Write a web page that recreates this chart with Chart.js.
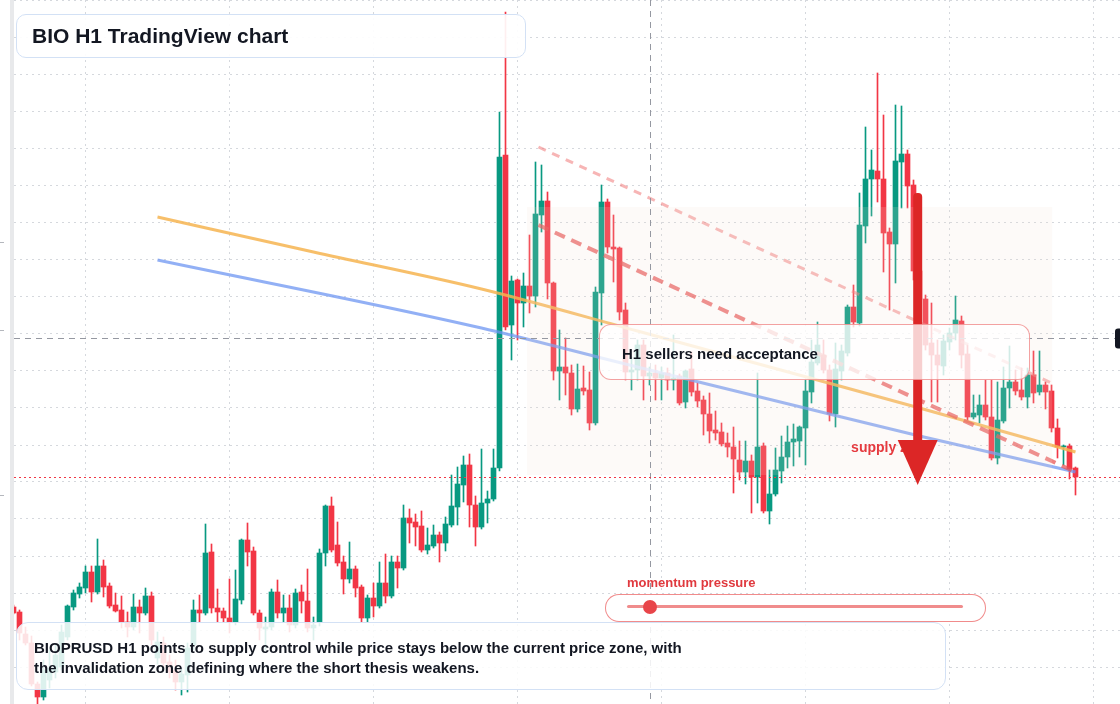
<!DOCTYPE html>
<html>
<head>
<meta charset="utf-8">
<title>BIO H1 TradingView chart</title>
<script src="https://cdn.jsdelivr.net/npm/chart.js@4.4.1/dist/chart.umd.min.js"></script>
<style>
  body { margin: 0; background: #fff; font-family: "Liberation Sans", Arial, sans-serif; }
  #stage { position: relative; width: 1120px; height: 704px; overflow: hidden; background: #fff; }
  #chart { position: absolute; left: 0; top: 0; }
  .card { position: absolute; box-sizing: border-box; color: #131722; font-weight: bold; white-space: nowrap; }
  #title { left: 16px; top: 14px; width: 510px; height: 44px; border: 1px solid #d3e1f5; border-radius: 10px;
           background: rgba(255,255,255,0.92); font-size: 21px; line-height: 42px; padding-left: 15px; }
  #note { left: 16px; top: 622px; width: 930px; height: 68px; border: 1.5px solid #d3e1f5; border-radius: 12px;
          background: rgba(255,255,255,0.86); font-size: 15px; line-height: 20px; padding: 15px 0 0 17px; }
  #callout { left: 599px; top: 324px; width: 431px; height: 56px; border: 1.5px solid rgba(236,110,110,0.65);
             border-radius: 12px; background: rgba(255,255,255,0.78); font-size: 15px; line-height: 57px; padding-left: 22px; }
  #momLabel { left: 627px; top: 575px; font-size: 13px; line-height: 15px; color: #e0393e; }
  #mom { left: 605px; top: 594px; width: 381px; height: 28px; border: 1.5px solid rgba(236,100,100,0.75);
         border-radius: 14px; background: #fff; }
  #momTrack { position: absolute; left: 20.5px; top: 10px; width: 336px; height: 3px; border-radius: 2px; background: #f08c8c; }
  #momDot { position: absolute; left: 36.5px; top: 4.5px; width: 14px; height: 14px; border-radius: 50%; background: #e8454a; }
</style>
</head>
<body>
<div id="stage">
  <canvas id="chart" width="1120" height="704"></canvas>
  <div class="card" id="title">BIO H1 TradingView chart</div>
  <div class="card" id="callout">H1 sellers need acceptance</div>
  <div class="card" id="momLabel">momentum pressure</div>
  <div class="card" id="mom"><div id="momTrack"></div><div id="momDot"></div></div>
  <div class="card" id="note">BIOPRUSD H1 points to supply control while price stays below the current price zone, with<br>the invalidation zone defining where the short thesis weakens.</div>
</div>

<script>
// BIOPRUSD hourly candles, oldest first
var opens = [
  0.0298,0.0293,0.0271,0.0262,0.0221,0.0208,0.0225,0.0233,0.0238,0.0268,
  0.0298,0.0311,0.0317,0.0333,0.0313,0.0339,0.0319,0.0300,0.0295,0.0283,
  0.0278,0.0298,0.0292,0.0309,0.0247,0.0262,0.0243,0.0235,0.0223,0.0230,
  0.0260,0.0295,0.0292,0.0353,0.0297,0.0294,0.0287,0.0283,0.0305,0.0365,
  0.0354,0.0292,0.0276,0.0278,0.0313,0.0292,0.0297,0.0280,0.0313,0.0304,
  0.0277,0.0283,0.0352,0.0399,0.0360,0.0343,0.0326,0.0336,0.0318,0.0287,
  0.0307,0.0299,0.0322,0.0309,0.0343,0.0337,0.0387,0.0383,0.0379,0.0355,
  0.0359,0.0370,0.0362,0.0380,0.0398,0.0420,0.0440,0.0400,0.0378,0.0402,
  0.0406,0.0437,0.0750,0.0580,0.0625,0.0602,0.0619,0.0609,0.0690,0.0704,
  0.0622,0.0534,0.0538,0.0532,0.0496,0.0517,0.0515,0.0482,0.0612,0.0703,
  0.0658,0.0657,0.0595,0.0533,0.0535,0.0560,0.0529,0.0532,0.0527,0.0532,
  0.0525,0.0529,0.0503,0.0536,0.0514,0.0505,0.0491,0.0475,0.0473,0.0462,
  0.0458,0.0445,0.0433,0.0444,0.0428,0.0459,0.0394,0.0411,0.0434,0.0448,
  0.0463,0.0464,0.0477,0.0513,0.0542,0.0550,0.0535,0.0491,0.0534,0.0552,
  0.0598,0.0582,0.0679,0.0726,0.0734,0.0726,0.0673,0.0661,0.0743,0.0751,
  0.0720,0.0634,0.0606,0.0562,0.0550,0.0539,0.0563,0.0572,0.0584,0.0551,
  0.0488,0.0490,0.0500,0.0488,0.0447,0.0484,0.0517,0.0523,0.0515,0.0508,
  0.0530,0.0513,0.0520,0.0514,0.0477,0.0458,0.0459,0.0437
];
var highs = [
  0.0300,0.0295,0.0278,0.0269,0.0223,0.0245,0.0255,0.0260,0.0280,0.0300,
  0.0315,0.0322,0.0339,0.0339,0.0366,0.0345,0.0322,0.0312,0.0309,0.0293,
  0.0311,0.0305,0.0317,0.0313,0.0273,0.0268,0.0250,0.0245,0.0237,0.0262,
  0.0305,0.0310,0.0381,0.0361,0.0316,0.0297,0.0326,0.0335,0.0366,0.0382,
  0.0358,0.0295,0.0288,0.0316,0.0325,0.0310,0.0310,0.0316,0.0320,0.0336,
  0.0288,0.0356,0.0400,0.0408,0.0383,0.0349,0.0363,0.0339,0.0320,0.0310,
  0.0322,0.0343,0.0351,0.0349,0.0349,0.0400,0.0396,0.0391,0.0394,0.0377,
  0.0380,0.0373,0.0388,0.0430,0.0438,0.0449,0.0451,0.0409,0.0456,0.0414,
  0.0456,0.0793,0.0893,0.0629,0.0626,0.0632,0.0670,0.0743,0.0740,0.0713,
  0.0623,0.0575,0.0567,0.0540,0.0541,0.0539,0.0533,0.0618,0.0720,0.0706,
  0.0690,0.0658,0.0602,0.0548,0.0565,0.0565,0.0538,0.0540,0.0538,0.0537,
  0.0570,0.0531,0.0535,0.0553,0.0522,0.0509,0.0512,0.0494,0.0482,0.0472,
  0.0478,0.0464,0.0464,0.0450,0.0532,0.0462,0.0435,0.0457,0.0469,0.0479,
  0.0481,0.0479,0.0525,0.0565,0.0583,0.0565,0.0540,0.0562,0.0560,0.0600,
  0.0620,0.0712,0.0778,0.0755,0.0832,0.0790,0.0677,0.0800,0.0799,0.0755,
  0.0725,0.0640,0.0610,0.0602,0.0565,0.0570,0.0577,0.0609,0.0589,0.0560,
  0.0510,0.0510,0.0525,0.0525,0.0523,0.0538,0.0559,0.0535,0.0537,0.0537,
  0.0554,0.0554,0.0523,0.0520,0.0486,0.0460,0.0461,0.0438
];
var lows = [
  0.0291,0.0265,0.0260,0.0219,0.0201,0.0205,0.0217,0.0227,0.0235,0.0265,
  0.0295,0.0307,0.0312,0.0303,0.0311,0.0308,0.0297,0.0293,0.0277,0.0268,
  0.0275,0.0272,0.0290,0.0260,0.0241,0.0237,0.0227,0.0215,0.0210,0.0213,
  0.0255,0.0283,0.0290,0.0292,0.0283,0.0283,0.0272,0.0280,0.0301,0.0339,
  0.0290,0.0265,0.0255,0.0275,0.0287,0.0283,0.0273,0.0277,0.0292,0.0273,
  0.0265,0.0279,0.0339,0.0353,0.0339,0.0311,0.0322,0.0308,0.0283,0.0283,
  0.0288,0.0297,0.0302,0.0307,0.0317,0.0335,0.0362,0.0359,0.0353,0.0351,
  0.0357,0.0343,0.0354,0.0378,0.0380,0.0403,0.0378,0.0359,0.0376,0.0382,
  0.0404,0.0434,0.0575,0.0545,0.0565,0.0578,0.0592,0.0598,0.0673,0.0606,
  0.0525,0.0505,0.0510,0.0490,0.0493,0.0510,0.0475,0.0480,0.0580,0.0652,
  0.0623,0.0585,0.0525,0.0515,0.0525,0.0505,0.0520,0.0505,0.0505,0.0515,
  0.0515,0.0500,0.0497,0.0509,0.0498,0.0470,0.0462,0.0465,0.0459,0.0448,
  0.0412,0.0425,0.0421,0.0392,0.0402,0.0392,0.0381,0.0409,0.0422,0.0437,
  0.0439,0.0448,0.0440,0.0502,0.0540,0.0532,0.0484,0.0478,0.0525,0.0549,
  0.0578,0.0579,0.0662,0.0689,0.0703,0.0633,0.0595,0.0622,0.0697,0.0697,
  0.0625,0.0600,0.0555,0.0503,0.0503,0.0530,0.0555,0.0565,0.0537,0.0485,
  0.0486,0.0482,0.0485,0.0445,0.0441,0.0482,0.0497,0.0510,0.0505,0.0497,
  0.0502,0.0510,0.0496,0.0473,0.0447,0.0440,0.0426,0.0410
];
var closes = [
  0.0292,0.0272,0.0262,0.0221,0.0208,0.0235,0.0237,0.0250,0.0273,0.0299,
  0.0312,0.0318,0.0333,0.0313,0.0339,0.0318,0.0299,0.0294,0.0283,0.0278,
  0.0298,0.0292,0.0309,0.0265,0.0263,0.0242,0.0233,0.0223,0.0231,0.0257,
  0.0295,0.0292,0.0352,0.0297,0.0293,0.0287,0.0283,0.0306,0.0365,0.0353,
  0.0292,0.0277,0.0278,0.0313,0.0292,0.0297,0.0280,0.0312,0.0304,0.0277,
  0.0280,0.0352,0.0399,0.0355,0.0342,0.0326,0.0336,0.0317,0.0287,0.0307,
  0.0299,0.0322,0.0309,0.0343,0.0337,0.0387,0.0382,0.0378,0.0355,0.0360,
  0.0370,0.0362,0.0381,0.0399,0.0421,0.0440,0.0400,0.0378,0.0402,0.0406,
  0.0437,0.0748,0.0578,0.0624,0.0602,0.0619,0.0609,0.0691,0.0704,0.0622,
  0.0534,0.0538,0.0532,0.0496,0.0516,0.0514,0.0482,0.0613,0.0703,0.0658,
  0.0656,0.0593,0.0533,0.0535,0.0560,0.0529,0.0532,0.0527,0.0532,0.0525,
  0.0527,0.0502,0.0534,0.0513,0.0504,0.0491,0.0474,0.0472,0.0461,0.0458,
  0.0446,0.0433,0.0444,0.0428,0.0458,0.0394,0.0411,0.0435,0.0448,0.0463,
  0.0466,0.0478,0.0514,0.0543,0.0560,0.0535,0.0491,0.0536,0.0554,0.0598,
  0.0583,0.0680,0.0726,0.0735,0.0726,0.0672,0.0661,0.0744,0.0751,0.0719,
  0.0634,0.0606,0.0560,0.0550,0.0540,0.0564,0.0572,0.0585,0.0550,0.0488,
  0.0492,0.0500,0.0488,0.0447,0.0485,0.0517,0.0523,0.0514,0.0508,0.0530,
  0.0512,0.0520,0.0513,0.0477,0.0458,0.0459,0.0436,0.0428
];

// moving averages (candle index / price)
var fastMaIdx = [24, 50, 78, 104, 134, 151, 177];
var fastMa    = [0.0688, 0.0653, 0.0616, 0.0574, 0.0525, 0.0497, 0.0453];
var slowMaIdx = [24, 78, 98, 104, 138, 151, 177];
var slowMa    = [0.0645, 0.0577, 0.0547, 0.0538, 0.0488, 0.0469, 0.0433];

// descending supply trend lines
var upperTrendIdx = [87.5, 173];
var upperTrend    = [0.0758, 0.0522];
var lowerTrendIdx = [87.5, 177];
var lowerTrend    = [0.0680, 0.0433];

// supply zone box and the short arrow
var zoneIdx   = [85.6, 173.1];
var zonePrice = [0.0698, 0.0430];
var arrowIdx = 150.7;
var arrowPrice = [0.0712, 0.0465, 0.0420];   // top, head base, tip
var supplyLabelIdx = 139.6, supplyLabelPrice = 0.0457;

// crosshair
var crossIdx = 106.1, crossPrice = 0.0567;

// grid lines: one per day, and price levels
var dayTicks = [12, 36, 60, 84, 108, 132, 156, 180];
var priceTicks = [0.0904, 0.0867, 0.0830, 0.0793, 0.0756, 0.0719, 0.0682, 0.0645, 0.0608, 0.0571,
                  0.0534, 0.0497, 0.0460, 0.0423, 0.0386, 0.0349, 0.0312, 0.0275, 0.0238];

var UP = '#089981', DOWN = '#f23645';
var candleColors = opens.map(function (o, i) { return closes[i] >= o ? UP : DOWN; });

function pts(idx, vals) {
  return idx.map(function (x, k) { return { x: x, y: vals[k] }; });
}

var overlay = {
  id: 'overlay',
  beforeDraw: function (chart) {
    var ctx = chart.ctx;
    ctx.save();
    ctx.fillStyle = '#fff';
    ctx.fillRect(0, 0, chart.width, chart.height);
    ctx.fillStyle = '#e8e9eb';
    ctx.fillRect(10, 0, 4, chart.height);
    ctx.fillStyle = '#b4b7bd';
    [242, 330, 495].forEach(function (y) { ctx.fillRect(0, y, 4, 1); });
    ctx.restore();
  },
  afterDatasetsDraw: function (chart) {
    var ctx = chart.ctx, xs = chart.scales.x, ys = chart.scales.y, a = chart.chartArea;
    var px = function (v) { return xs.getPixelForValue(v); };
    var py = function (v) { return ys.getPixelForValue(v); };
    ctx.save();

    // supply zone
    ctx.fillStyle = 'rgba(245,225,210,0.16)';
    ctx.fillRect(px(zoneIdx[0]), py(zonePrice[0]), px(zoneIdx[1]) - px(zoneIdx[0]), py(zonePrice[1]) - py(zonePrice[0]));

    // crosshair
    ctx.strokeStyle = '#9598a1';
    ctx.lineWidth = 1;
    ctx.setLineDash([6, 5]);
    var cx = Math.round(px(crossIdx)) + 0.5, cy = Math.round(py(crossPrice)) + 0.5;
    ctx.beginPath(); ctx.moveTo(cx, 0); ctx.lineTo(cx, chart.height); ctx.stroke();
    ctx.beginPath(); ctx.moveTo(a.left, cy); ctx.lineTo(a.right, cy); ctx.stroke();

    // last price line
    var ly = Math.round(py(closes[closes.length - 1])) + 0.5;
    ctx.strokeStyle = DOWN;
    ctx.setLineDash([2, 3]);
    ctx.beginPath(); ctx.moveTo(a.left, ly); ctx.lineTo(a.right, ly); ctx.stroke();
    ctx.setLineDash([]);

    // supply zone label
    ctx.fillStyle = '#e53a3f';
    ctx.font = 'bold 14px "Liberation Sans", Arial, sans-serif';
    ctx.textBaseline = 'middle';
    ctx.fillText('supply zone', px(supplyLabelIdx), py(supplyLabelPrice));

    // short arrow
    var ax = px(arrowIdx), top = py(arrowPrice[0]), base = py(arrowPrice[1]), tip = py(arrowPrice[2]);
    ctx.fillStyle = '#dc2626';
    ctx.beginPath();
    ctx.roundRect(ax - 4.5, top, 9, base - top + 1, [4, 4, 0, 0]);
    ctx.fill();
    ctx.beginPath();
    ctx.moveTo(ax - 20, base); ctx.lineTo(ax + 20, base); ctx.lineTo(ax, tip);
    ctx.closePath(); ctx.fill();

    // crosshair price tag at the right edge
    ctx.fillStyle = '#131722';
    ctx.beginPath();
    ctx.roundRect(1115, cy - 10, 20, 20, 3);
    ctx.fill();
    ctx.restore();
  }
};

new Chart(document.getElementById('chart'), {
  type: 'bar',
  data: {
    datasets: [
      {
        label: 'wick',
        data: lows.map(function (l, i) { return { x: i, y: [l, highs[i]] }; }),
        backgroundColor: candleColors,
        barThickness: 1,
        grouped: false,
        order: 3
      },
      {
        label: 'body',
        data: opens.map(function (o, i) { return { x: i, y: [o, closes[i]] }; }),
        backgroundColor: candleColors,
        barThickness: 5,
        grouped: false,
        order: 2
      },
      {
        type: 'line', label: 'fast MA',
        data: pts(fastMaIdx, fastMa),
        borderColor: 'rgba(246,180,80,0.85)', borderWidth: 3,
        pointRadius: 0, cubicInterpolationMode: 'monotone', order: 1
      },
      {
        type: 'line', label: 'slow MA',
        data: pts(slowMaIdx, slowMa),
        borderColor: 'rgba(110,150,242,0.75)', borderWidth: 3,
        pointRadius: 0, cubicInterpolationMode: 'monotone', order: 1
      },
      {
        type: 'line', label: 'upper trend',
        data: pts(upperTrendIdx, upperTrend),
        borderColor: 'rgba(240,120,120,0.55)', borderWidth: 3, borderDash: [8, 7],
        pointRadius: 0, order: 0
      },
      {
        type: 'line', label: 'lower trend',
        data: pts(lowerTrendIdx, lowerTrend),
        borderColor: 'rgba(232,80,80,0.72)', borderWidth: 4, borderDash: [11, 7],
        pointRadius: 0, order: 0
      }
    ]
  },
  options: {
    responsive: false,
    animation: false,
    devicePixelRatio: 1,
    layout: { padding: { left: 14, right: 0, top: 0, bottom: 0 } },
    plugins: { legend: { display: false }, tooltip: { enabled: false } },
    scales: {
      x: {
        type: 'linear', min: 0.0833, max: 184.417, offset: false,
        grid: { color: '#d5d8dd', lineWidth: 1, offset: false, drawTicks: false },
        border: { display: false, dash: [2, 4] },
        ticks: { display: false },
        afterBuildTicks: function (s) { s.ticks = dayTicks.map(function (v) { return { value: v }; }); },
        afterFit: function (s) { s.height = 0; }
      },
      y: {
        type: 'linear', position: 'right', min: 0.0201, max: 0.0905,
        grid: { color: '#d5d8dd', lineWidth: 1, drawTicks: false },
        border: { display: false, dash: [2, 4] },
        ticks: { display: false },
        afterBuildTicks: function (s) { s.ticks = priceTicks.map(function (v) { return { value: v }; }); },
        afterFit: function (s) { s.width = 0; }
      }
    }
  },
  plugins: [overlay]
});
</script>
</body>
</html>
